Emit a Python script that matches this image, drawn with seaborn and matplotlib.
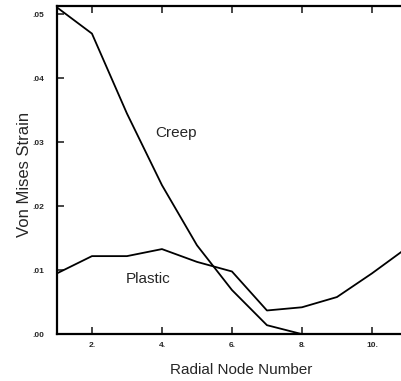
import numpy as np
import pandas as pd
import matplotlib
matplotlib.use("Agg")
import matplotlib.pyplot as plt
import seaborn as sns

# Values
creep_node = [1, 2, 3, 4, 5, 6, 7, 8]
creep_strain = [0.0511, 0.0470, 0.0345, 0.0233, 0.0139, 0.0069, 0.0014, 0.0000]

plastic_node = [1, 2, 3, 4, 5, 6, 7, 8, 9, 10, 11]
plastic_strain = [0.0095, 0.0122, 0.0122, 0.0133, 0.0113, 0.0098, 0.0037,
                  0.0042, 0.0058, 0.0095, 0.0135]

x_ticks = [2, 4, 6, 8, 10]
x_tick_labels = ["2.", "4.", "6.", "8.", "10."]
y_ticks = [0.0, 0.01, 0.02, 0.03, 0.04, 0.05]
y_tick_labels = [".00", ".01", ".02", ".03", ".04", ".05"]

sns.set_style("ticks")
plt.rcParams["font.family"] = ["Liberation Sans", "DejaVu Sans"]

creep_df = pd.DataFrame({"node": creep_node, "strain": creep_strain})
plastic_df = pd.DataFrame({"node": plastic_node, "strain": plastic_strain})

fig = plt.figure(figsize=(4.01, 3.81), dpi=100)
ax = fig.add_axes([0.142, 0.123, 0.858, 0.861])

sns.lineplot(data=creep_df, x="node", y="strain", ax=ax, color="black", linewidth=1.3)
sns.lineplot(data=plastic_df, x="node", y="strain", ax=ax, color="black", linewidth=1.3)

ax.set_xlim(1, 10.83)
ax.set_ylim(0, 0.0513)
ax.set_xticks(x_ticks)
ax.set_xticklabels(x_tick_labels, fontsize=6, fontweight="bold")
ax.set_yticks(y_ticks)
ax.set_yticklabels(y_tick_labels, fontsize=6, fontweight="bold")
ax.tick_params(direction="in", length=5, width=1.2, top=True, right=False)
ax.tick_params(axis="x", pad=6)
ax.tick_params(axis="y", pad=9)

for side in ["left", "bottom", "top"]:
    ax.spines[side].set_linewidth(1.6)
    ax.spines[side].set_color("black")
ax.spines["right"].set_visible(False)

ax.set_xlabel("Radial Node Number", fontsize=11)
ax.set_ylabel("Von Mises Strain", fontsize=12)
ax.xaxis.set_label_coords(0.535, -0.088)
ax.yaxis.set_label_coords(-0.073, 0.488)

ax.text(3.8, 0.0315, "Creep", fontsize=11, va="center")
ax.text(2.97, 0.0087, "Plastic", fontsize=11, va="center")

fig.savefig("out.png", dpi=100)
